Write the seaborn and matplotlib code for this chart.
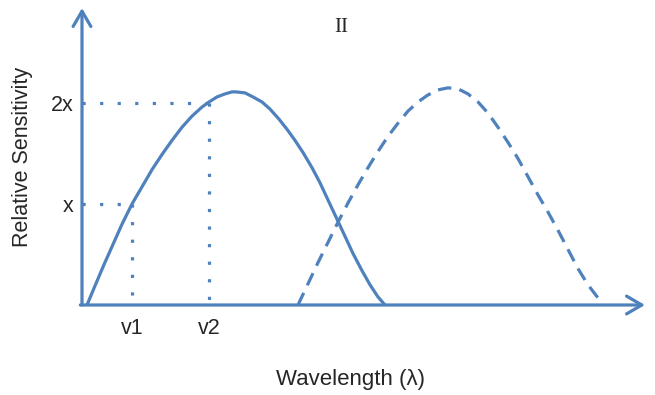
import matplotlib
matplotlib.use("Agg")
import matplotlib.pyplot as plt
import seaborn as sns
import pandas as pd

# curva continua (pigmento 1) - x em unidades arbitrarias, y em unidades de "x"
solid_x = [5, 13, 22, 31, 40, 50, 60, 70, 80, 90, 100, 110, 120, 127, 135, 143, 150, 154,
           163, 171, 180, 188, 197, 205, 213, 221, 230, 238, 246, 255, 263, 271, 280, 288, 296, 303]
solid_y = [0, 0.19, 0.40, 0.60, 0.80, 1.0, 1.17, 1.34, 1.49, 1.63, 1.76, 1.87, 1.96, 2.01, 2.06, 2.09, 2.11, 2.11,
           2.10, 2.06, 2.01, 1.94, 1.84, 1.74, 1.63, 1.51, 1.36, 1.21, 1.04, 0.85, 0.68, 0.51, 0.34, 0.20, 0.08, 0]

# curva tracejada (pigmento 2)
dash_x = [216, 226, 236, 246, 256, 266, 276, 286, 296, 306, 316, 326, 336, 346, 356, 366,
          376, 386, 396, 406, 416, 426, 436, 446, 456, 466, 476, 486, 496, 506, 516]
dash_y = [0, 0.21, 0.42, 0.62, 0.82, 1.01, 1.19, 1.36, 1.52, 1.67, 1.80, 1.92, 2.01, 2.08, 2.13, 2.15,
          2.14, 2.09, 2.01, 1.90, 1.76, 1.61, 1.45, 1.27, 1.09, 0.92, 0.74, 0.55, 0.36, 0.20, 0.07]

# marcas dos eixos
v_ticks = [50, 127]
v_labels = ["v1", "v2"]
s_ticks = [1, 2]
s_labels = ["x", "2x"]

blue = "#4f81bd"
lw = 2.3

sns.set_style("white")
plt.rcParams['font.family'] = ['Liberation Sans', 'DejaVu Sans']

fig = plt.figure(figsize=(6.55, 3.95), dpi=100)
W, H = 655, 395
ax = fig.add_axes([82 / W, (H - 305) / H, (645 - 82) / W, (305 - 8) / H])

df_solid = pd.DataFrame({"wl": solid_x, "sens": solid_y})
df_dash = pd.DataFrame({"wl": dash_x, "sens": dash_y})
sns.lineplot(data=df_solid, x="wl", y="sens", ax=ax, color=blue, lw=lw, sort=False)
sns.lineplot(data=df_dash, x="wl", y="sens", ax=ax, color=blue, lw=lw, sort=False,
             dashes=False, linestyle=(0, (4.2, 2.6)))

# linhas pontilhadas ate os niveis x e 2x
for vx, sy in zip(v_ticks, s_ticks):
    ax.plot([0, vx], [sy, sy], color=blue, lw=lw, linestyle=(0, (1, 4.5)))
    ax.plot([vx, vx], [sy, 0], color=blue, lw=lw, linestyle=(0, (1, 4.5)))

ax.set_xlim(0, 563)
ax.set_ylim(0, (305 - 8) / 101)
for s in ax.spines.values():
    s.set_visible(False)

# eixos com setas
arrow = dict(arrowstyle="->,head_length=0.55,head_width=0.32", color=blue, lw=lw,
             mutation_scale=20, shrinkA=0, shrinkB=0)
ax.annotate("", xy=(0, 1), xytext=(0, 0), xycoords="axes fraction", arrowprops=arrow)
ax.annotate("", xy=(1, 0), xytext=(-0.003, 0), xycoords="axes fraction", arrowprops=arrow)

ax.set_xticks(v_ticks)
ax.set_xticklabels(v_labels)
ax.set_yticks(s_ticks)
ax.set_yticklabels(s_labels)
ax.tick_params(axis="x", length=0, pad=9, labelsize=15.5)
ax.tick_params(axis="y", length=0, pad=6, labelsize=15.5)
ax.set_xlabel("")
ax.set_ylabel("")

fig.text(23 / W, 1 - 157 / H, "Relative Sensitivity", rotation=90, ha="center", va="center", fontsize=15.5)
fig.text(351 / W, 1 - 380 / H, "Wavelength (λ)", ha="center", va="center", fontsize=16)
fig.text(341 / W, 1 - 27 / H, "II", ha="center", va="center", fontsize=15,
         family=["Liberation Serif", "DejaVu Serif"])

fig.savefig("out.png", dpi=100)
